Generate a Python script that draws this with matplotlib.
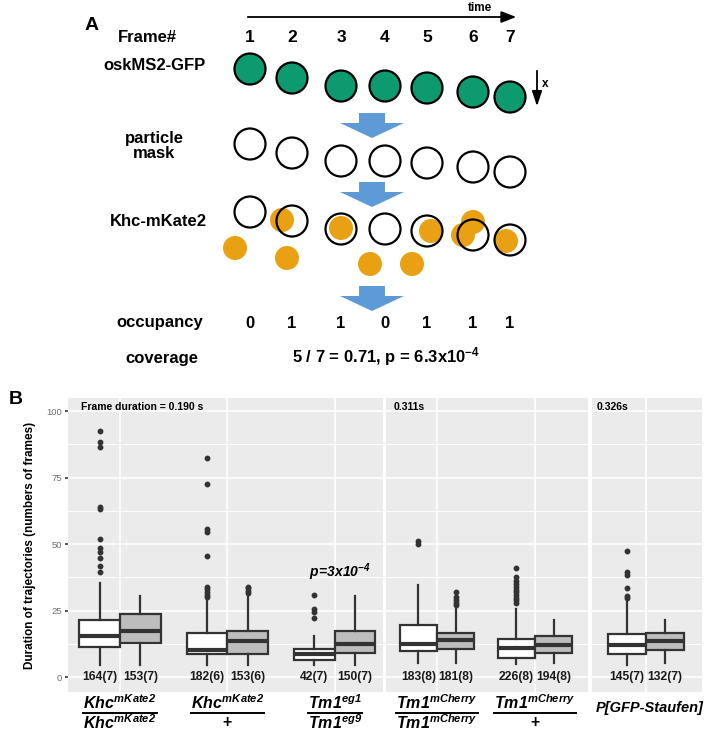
import numpy as np
import matplotlib
matplotlib.use("Agg")
import matplotlib.pyplot as plt
from matplotlib.patches import Circle, Polygon
from matplotlib.lines import Line2D

plt.rcParams["font.family"] = ["Liberation Sans", "DejaVu Sans"]
plt.rcParams["mathtext.fontset"] = "custom"
plt.rcParams["mathtext.it"] = "Liberation Sans:italic:bold"
plt.rcParams["mathtext.rm"] = "Liberation Sans:italic:bold"
plt.rcParams["mathtext.bf"] = "Liberation Sans:bold"

W, H = 709, 736

# ---------------- panel A (schematic, pixel coordinates) ----------------
frames = [1, 2, 3, 4, 5, 6, 7]
frame_x = [250, 292, 341, 385, 427, 473, 510]
gfp_y = [69, 78, 86, 86, 88, 92, 97]
mask_shift = 75          # particle mask row sits below the GFP row
khc_shift = 143          # Khc row
khc_x = [235, 282, 287, 341, 370, 412, 431, 463, 473, 506]
khc_y = [248, 220, 258, 228, 264, 264, 231, 235, 222, 241]
occupancy = [0, 1, 1, 0, 1, 1, 1]
row_names = ["Frame#", "oskMS2-GFP", "particle\nmask", "Khc-mKate2", "occupancy", "coverage"]
row_y = [38, 66, 146, 222, 323, 358]
block_arrow_y = [113, 182, 286]
coverage_text = r"5 / 7 = 0.71, p = 6.3x10$^{\mathbf{-4}}$"

# ---------------- panel B (box statistics) ----------------
numerators = [r"$Khc^{mKate2}$", r"$Khc^{mKate2}$", r"$Tm1^{eg1}$",
              r"$Tm1^{mCherry}$", r"$Tm1^{mCherry}$", "P[GFP-Staufen]"]
denominators = [r"$Khc^{mKate2}$", "+", r"$Tm1^{eg9}$", r"$Tm1^{mCherry}$", "+", None]
panel_of_group = [0, 0, 0, 1, 1, 2]
frame_duration = ["Frame duration = 0.190 s", "0.311s", "0.326s"]

# two boxes per genotype: white then grey
q1 = [11.2, 12.8, 8.6, 8.6, 6.4, 9.0, 9.8, 10.5, 7.1, 9.0, 8.6, 10.2]
med = [15.5, 17.5, 10.0, 13.5, 8.6, 12.4, 12.6, 13.8, 10.9, 12.0, 12.0, 13.5]
q3 = [21.4, 23.8, 16.5, 17.3, 10.5, 17.5, 19.5, 16.5, 14.5, 15.4, 16.3, 16.5]
whislo = [4.5, 4.5, 4.5, 4.5, 4.5, 4.5, 5.3, 5.3, 4.9, 5.3, 4.5, 5.3]
whishi = [35.5, 30.5, 28.5, 30.5, 15.4, 30.5, 34.6, 26.0, 25.6, 21.4, 29.0, 21.4]
outliers = [
    [39.6, 41.9, 44.7, 47.1, 48.5, 51.8, 63.0, 64.0, 86.5, 88.5, 92.5],
    [],
    [30.0, 31.0, 32.0, 33.0, 34.0, 45.5, 54.5, 55.6, 72.6, 82.3],
    [31.5, 32.5, 33.5, 34.0],
    [22.2, 24.5, 25.5, 30.8],
    [],
    [50.0, 51.0],
    [27.0, 28.0, 29.0, 30.0, 32.0],
    [27.8, 28.8, 29.8, 30.8, 31.8, 32.8, 33.8, 35.0, 36.0, 37.6, 41.0],
    [],
    [29.8, 30.5, 33.5, 38.5, 39.5, 47.5],
    [],
]
counts = ["164(7)", "153(7)", "182(6)", "153(6)", "42(7)", "150(7)",
          "183(8)", "181(8)", "226(8)", "194(8)", "145(7)", "132(7)"]

GREEN = "#0E9A6F"
ORANGE = "#E9A012"
BLUE = "#5E9BD6"


def fig_rect(x0, x1, y0, y1):
    return [x0 / W, 1 - y1 / H, (x1 - x0) / W, (y1 - y0) / H]


def block_arrow(ax, xc, ytop):
    # wide blue arrow pointing down
    shape = np.array([[-13, 0], [13, 0], [13, 10], [32, 10], [0, 25],
                      [-32, 10], [-13, 10]], dtype=float)
    shape[:, 0] += xc
    shape[:, 1] += ytop
    ax.add_patch(Polygon(shape, closed=True, facecolor=BLUE, edgecolor="none"))


fig = plt.figure(figsize=(W / 100, H / 100), dpi=100)

# ---------------- panel A ----------------
axA = fig.add_axes(fig_rect(0, W, 0, 390))
axA.set_xlim(0, W)
axA.set_ylim(390, 0)
axA.axis("off")

axA.text(92, 25, "A", fontsize=14, fontweight="bold", ha="center", va="center")
axA.annotate("", xy=(519, 17), xytext=(245, 17),
             arrowprops=dict(arrowstyle="-|>,head_length=0.9,head_width=0.35",
                             color="black", lw=1.3))
axA.text(480, 8, "time", fontsize=8.5, fontweight="bold", ha="center", va="center")
axA.annotate("", xy=(537, 109), xytext=(537, 68),
             arrowprops=dict(arrowstyle="-|>,head_length=0.9,head_width=0.3",
                             color="black", lw=1.3))
axA.text(545, 84, "x", fontsize=8.5, fontweight="bold", ha="center", va="center")

row_x = [147, 155, 154, 158, 160, 162]
for name, x, y in zip(row_names, row_x, row_y):
    axA.text(x, y, name, fontsize=12, fontweight="bold", ha="center", va="center",
             linespacing=1.0)

for f, x in zip(frames, frame_x):
    axA.text(x, 38, str(f), fontsize=12.5, fontweight="bold", ha="center", va="center")

for x, y in zip(frame_x, gfp_y):
    axA.add_patch(Circle((x, y), 15.5, facecolor=GREEN, edgecolor="black", lw=1.6))
    axA.add_patch(Circle((x, y + mask_shift), 15.5, facecolor="white",
                         edgecolor="black", lw=1.6))

for x, y in zip(khc_x, khc_y):
    axA.add_patch(Circle((x, y), 12, facecolor=ORANGE, edgecolor="none"))
for x, y in zip(frame_x, gfp_y):
    axA.add_patch(Circle((x, y + khc_shift), 15.5, facecolor="none",
                         edgecolor="black", lw=1.6))

for ytop in block_arrow_y:
    block_arrow(axA, 372, ytop)

for x, v in zip(frame_x, occupancy):
    axA.text(x, 323, str(v), fontsize=12, fontweight="bold", ha="center", va="center")

axA.text(386, 357, coverage_text, fontsize=12, fontweight="bold",
         ha="center", va="center")

# ---------------- panel B ----------------
panel_px = [(68, 383), (386, 588), (592, 702)]
panel_xlim = [(0.516, 3.45), (0.48, 2.54), (0.46, 1.56)]
ylim = (-5.6, 104.9)
box_w = 0.38
label_y = [-0.037, -0.105]   # numerator / denominator (axes fraction)
bar_y = 713                  # fraction bar, figure pixels from top

fig.text(9 / W, 1 - 400 / H, "B", fontsize=14, fontweight="bold",
         ha="left", va="center")

renderer = fig.canvas.get_renderer()
box_idx = 0
for p, ((x0, x1), xl) in enumerate(zip(panel_px, panel_xlim)):
    ax = fig.add_axes(fig_rect(x0, x1, 398, 692))
    ax.set_facecolor("#EBEBEB")
    ax.set_xlim(*xl)
    ax.set_ylim(*ylim)
    for s in ax.spines.values():
        s.set_visible(False)
    ax.set_yticks([0, 25, 50, 75, 100])
    ax.set_yticks([12.5, 37.5, 62.5, 87.5], minor=True)
    groups = [g for g, pg in enumerate(panel_of_group) if pg == p]
    centers = np.arange(1, len(groups) + 1)
    ax.set_xticks(centers)
    ax.set_xticklabels([])
    ax.tick_params(axis="x", length=0)
    ax.grid(True, which="major", color="white", lw=1.2)
    ax.grid(True, which="minor", axis="y", color="white", lw=0.7)
    ax.set_axisbelow(True)

    stats, pos, fills = [], [], []
    for c in centers:
        for k, off in enumerate((-box_w / 2, box_w / 2)):
            i = box_idx
            stats.append(dict(q1=q1[i], med=med[i], q3=q3[i], whislo=whislo[i],
                              whishi=whishi[i], fliers=outliers[i]))
            pos.append(c + off)
            fills.append("white" if k == 0 else "#BDBDBD")
            ax.text(c + off, 0, counts[i], fontsize=8.7, fontweight="bold",
                    ha="center", va="center", color="#1A1A1A")
            box_idx += 1

    bp = ax.bxp(stats, positions=pos, widths=box_w, patch_artist=True,
                showcaps=False, manage_ticks=False,
                boxprops=dict(edgecolor="#333333", lw=1.6),
                medianprops=dict(color="#333333", lw=3.0, solid_capstyle="butt"),
                whiskerprops=dict(color="#333333", lw=1.6),
                flierprops=dict(marker="o", markersize=3.2, markerfacecolor="#333333",
                                markeredgecolor="#333333"))
    for patch, fc in zip(bp["boxes"], fills):
        patch.set_facecolor(fc)

    # genotype labels written as fractions under each pair of boxes
    trans = ax.get_xaxis_transform()
    for c, g in zip(centers, groups):
        if denominators[g] is None:
            ax.text(c + 0.04, -0.055, numerators[g], transform=trans, fontsize=10.5,
                    fontweight="bold", fontstyle="italic", ha="center", va="center",
                    clip_on=False)
            continue
        tn = ax.text(c, label_y[0], numerators[g], transform=trans, fontsize=11.5,
                     ha="center", va="center", clip_on=False)
        ax.text(c, label_y[1], denominators[g], transform=trans, fontsize=11.5,
                fontweight="bold", ha="center", va="center", clip_on=False)
        bb = tn.get_window_extent(renderer)
        fig.add_artist(Line2D([bb.x0 / W, bb.x1 / W], [1 - bar_y / H] * 2,
                              color="black", lw=1.4, transform=fig.transFigure))

    ax.text(0.04, 0.985, frame_duration[p], transform=ax.transAxes, fontsize=7.5,
            fontweight="bold", ha="left", va="top")

    if p == 0:
        ax.tick_params(axis="y", which="major", length=2.5, width=1.2,
                       color="#333333", labelsize=6.8, labelcolor="#6E6E6E", pad=2)
        ax.tick_params(axis="y", which="minor", length=0)
        ax.set_ylabel("Duration of trajectories (numbers of frames)", fontsize=8.5,
                      fontweight="bold")
        ax.yaxis.set_label_coords(-0.10, 0.5)
        ax.text(3.05, 39.5, r"$p\!=\!3x10^{-4}$", fontsize=10, ha="center",
                va="center")
    else:
        ax.tick_params(axis="y", which="both", length=0, labelleft=False)

fig.savefig("out.png", dpi=100)
